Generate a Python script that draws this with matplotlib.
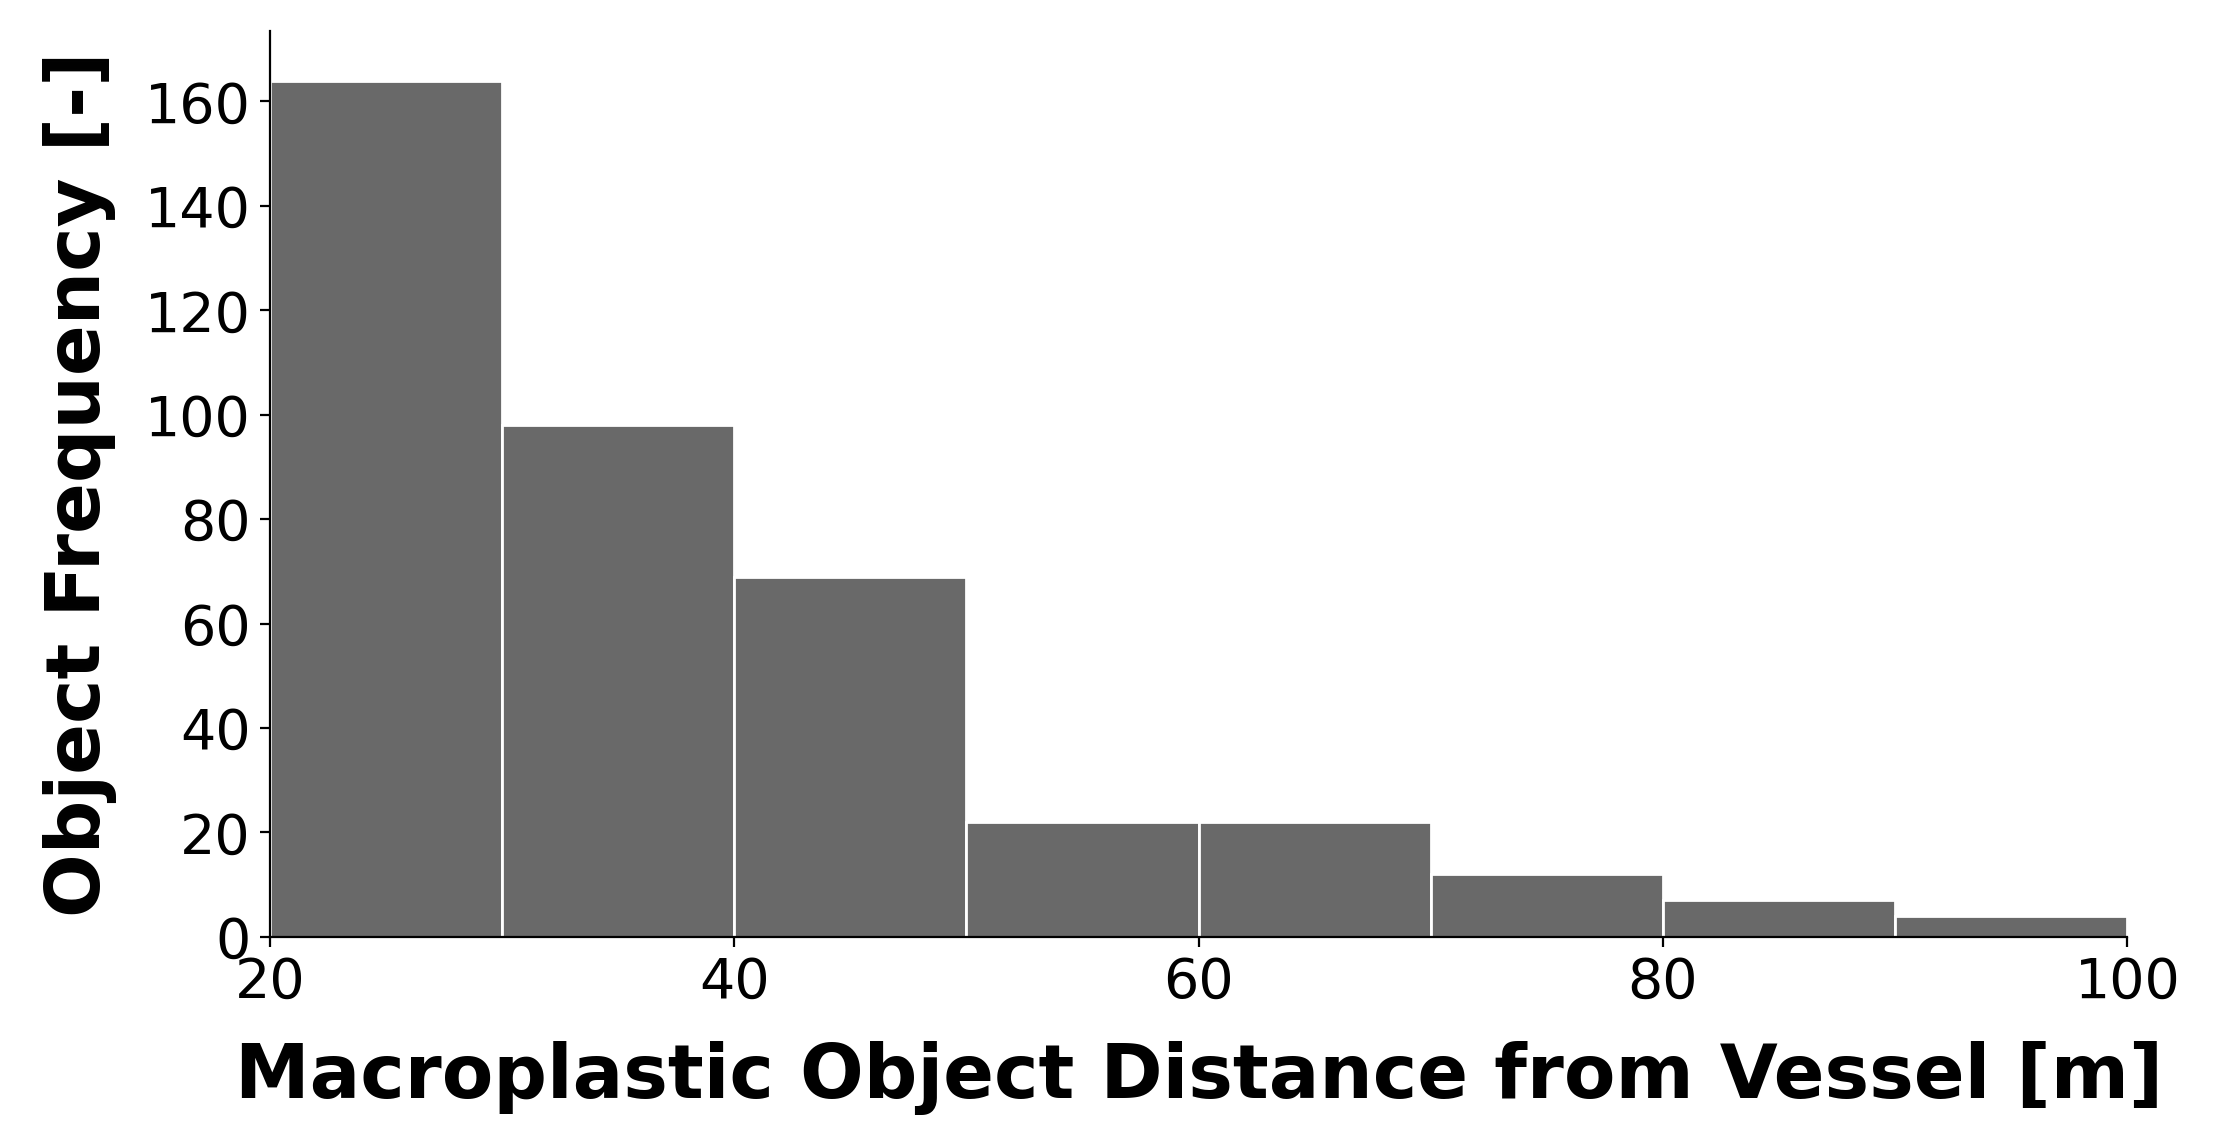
import numpy as np
import matplotlib
matplotlib.use("Agg")
import matplotlib.pyplot as plt

# histogram of object distances (bin edges in m, counts per bin)
bin_edges = [20, 30, 40, 50, 60, 70, 80, 90, 100]
counts = [164, 98, 69, 22, 22, 12, 7, 4]
x_ticks = [20, 40, 60, 80, 100]
y_ticks = [0, 20, 40, 60, 80, 100, 120, 140, 160]

fig = plt.figure(figsize=(11.08, 5.74), dpi=200)
ax = fig.add_axes([0.1218, 0.184, 0.8382, 0.789])

lefts = np.array(bin_edges[:-1])
widths = np.diff(bin_edges)
ax.bar(lefts, counts, width=widths, align='edge', color='dimgray',
       edgecolor='white', linewidth=1.0)

ax.set_xlim(20, 100)
ax.set_ylim(0, 173.5)
ax.set_xticks(x_ticks)
ax.set_yticks(y_ticks)
ax.tick_params(axis='both', labelsize=20)
ax.spines['top'].set_visible(False)
ax.spines['right'].set_visible(False)

ax.set_xlabel('Macroplastic Object Distance from Vessel [m]', fontsize=27,
              fontweight='bold', labelpad=11)
ax.set_ylabel('Object Frequency [-]', fontsize=27, fontweight='bold', labelpad=10)

fig.savefig('out.png', dpi=200)
